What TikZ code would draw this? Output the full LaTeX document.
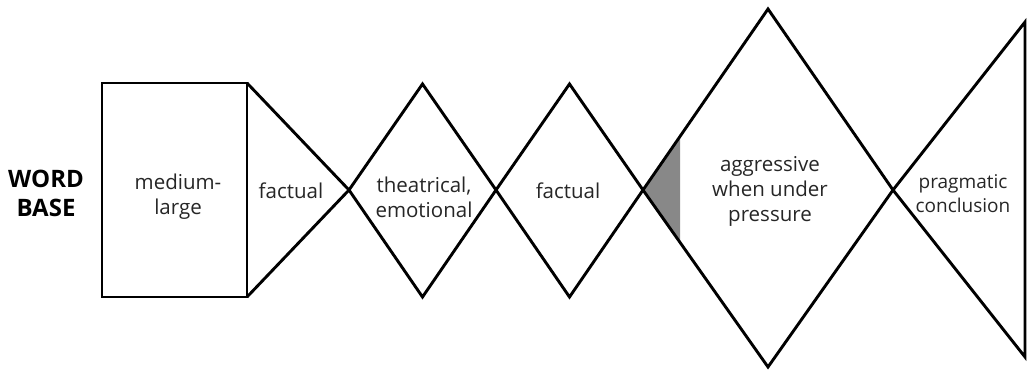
\documentclass[tikz,border=0pt]{standalone}
\usepackage{fontspec}
\setmainfont{Open Sans}
\usetikzlibrary{calc}
\definecolor{wedgegray}{RGB}{136,136,136}
\tikzset{
  outline/.style={draw=black, line width=2.9pt, line join=miter},
  phase/.style={align=center, inner sep=0pt, text=black!85,
    font=\fontsize{20.5}{25}\selectfont},
}
\begin{document}
\begin{tikzpicture}[x=1pt,y=-1pt]
  \useasboundingbox (0,0) rectangle (1035,371);
  \path
    (102,83) coordinate (rtl)
    (247,83) coordinate (rtr)
    (247,297) coordinate (rbr)
    (102,297) coordinate (rbl)
    (349,190) coordinate (m1)
    (422.5,84) coordinate (d1t)
    (422.5,297) coordinate (d1b)
    (496,190) coordinate (m2)
    (569.5,84) coordinate (d2t)
    (569.5,297) coordinate (d2b)
    (643,190) coordinate (m3)
    (768,9) coordinate (d3t)
    (768,367) coordinate (d3b)
    (893,190) coordinate (m4)
    (1025,22) coordinate (ttr)
    (1025,357) coordinate (tbr);
  \fill[wedgegray] (m3) -- ($(m3)!0.296!(d3t)$) -- ($(m3)!0.296!(d3b)$) -- cycle;
  \begin{scope}[outline]
    \draw (rtl) -- (rtr) -- (rbr) -- (rbl) -- cycle;
    \draw (rtr) -- (m1) -- (rbr);
    \draw (m1) -- (d1t) -- (m2) -- (d1b) -- cycle;
    \draw (m2) -- (d2t) -- (m3) -- (d2b) -- cycle;
    \draw (m3) -- (d3t) -- (m4) -- (d3b) -- cycle;
    \draw (m4) -- (ttr) -- (tbr) -- cycle;
  \end{scope}
  \node[phase, text=black, font=\fontsize{24}{29}\selectfont\bfseries]
    (word) at (46,193) {WORD\\BASE};
  \node[phase] (size) at (178,197) {medium-\\large};
  \node[phase] (fact1) at (291,191) {factual};
  \node[phase] (theatre) at (424,197) {theatrical,\\emotional};
  \node[phase] (fact2) at (568,191) {factual};
  \node[phase] (pressure) at (770,191) {aggressive\\when under\\pressure};
  \node[phase, font=\fontsize{19}{24}\selectfont] (close) at (963,194)
    {pragmatic\\conclusion};
\end{tikzpicture}
\end{document}
